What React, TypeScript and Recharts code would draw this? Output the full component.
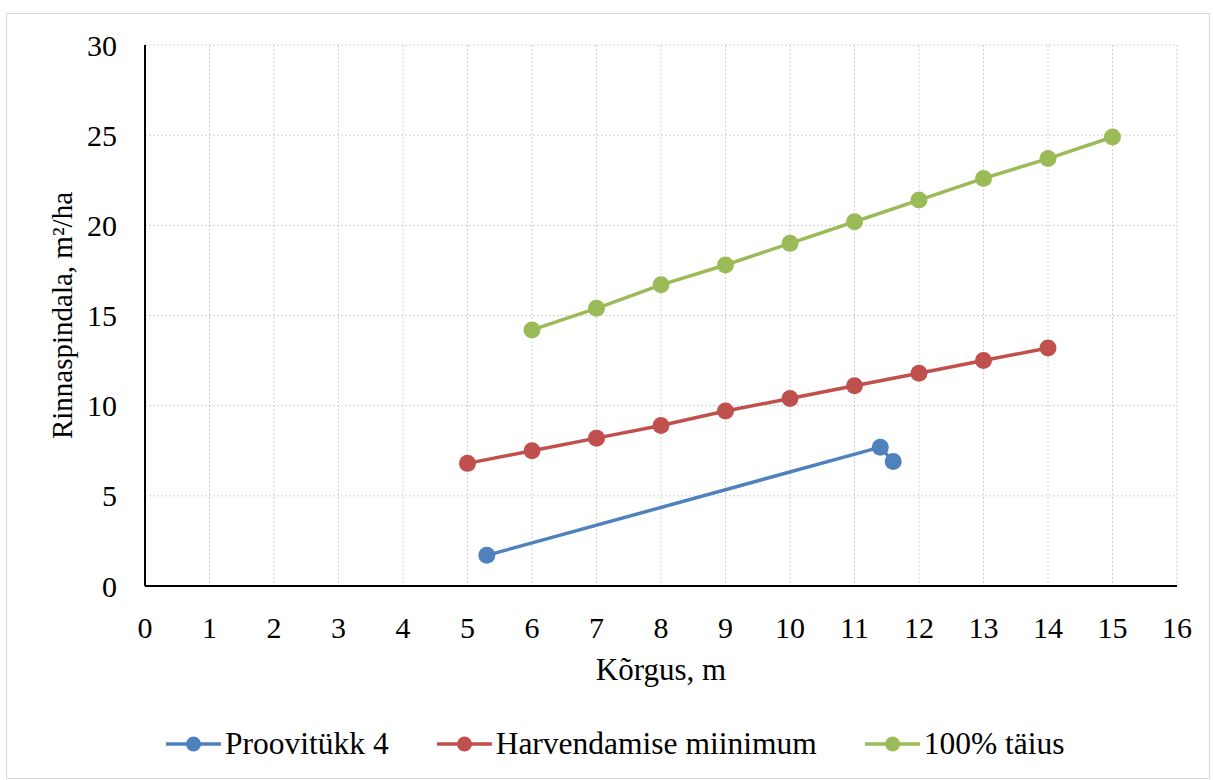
import { LineChart, Line, XAxis, YAxis, CartesianGrid, Legend } from 'recharts';

const proovitukkX = [5.3, 11.4, 11.6];
const proovitukkY = [1.7, 7.7, 6.9];

const harvendamineX = [5, 6, 7, 8, 9, 10, 11, 12, 13, 14];
const harvendamineY = [6.8, 7.5, 8.2, 8.9, 9.7, 10.4, 11.1, 11.8, 12.5, 13.2];

const taiusX = [6, 7, 8, 9, 10, 11, 12, 13, 14, 15];
const taiusY = [14.2, 15.4, 16.7, 17.8, 19.0, 20.2, 21.4, 22.6, 23.7, 24.9];

const xTicks = [0, 1, 2, 3, 4, 5, 6, 7, 8, 9, 10, 11, 12, 13, 14, 15, 16];
const yTicks = [0, 5, 10, 15, 20, 25, 30];

const toPoints = (xs: number[], ys: number[]) => xs.map((x, i) => ({ x, y: ys[i] }));

const series = [
  { name: 'Proovitükk 4', color: '#4F81BD', data: toPoints(proovitukkX, proovitukkY) },
  { name: 'Harvendamise miinimum', color: '#C0504D', data: toPoints(harvendamineX, harvendamineY) },
  { name: '100% täius', color: '#9BBB59', data: toPoints(taiusX, taiusY) },
];

const FONT = '"Liberation Serif", "Times New Roman", serif';

// fixed height so the plot area does not depend on the measured text
const renderLegend = () => (
  <div style={{ display: 'flex', alignItems: 'flex-start', height: 40, boxSizing: 'border-box', paddingTop: 6, paddingLeft: 166, fontFamily: FONT, fontSize: 31.5, color: '#000', overflow: 'visible' }}>
    {series.map((s, i) => (
      <div key={s.name} style={{ display: 'flex', alignItems: 'center', height: 36, lineHeight: '36px', marginLeft: i === 0 ? 0 : 48 }}>
        <svg width={55} height={20} style={{ marginRight: 4 }}>
          <line x1={0} y1={10} x2={55} y2={10} stroke={s.color} strokeWidth={3.5} strokeLinecap="round" />
          <circle cx={27.5} cy={10} r={7.5} fill={s.color} />
        </svg>
        <span>{s.name}</span>
      </div>
    ))}
  </div>
);

export default function App() {
  return (
    <div style={{ position: 'absolute', left: 0, top: 0, width: 1213, height: 780, background: '#fff' }}>
      <div style={{ position: 'absolute', left: 6, top: 13, width: 1204, height: 766, border: '1px solid #d9d9d9', boxSizing: 'border-box' }} />
      <LineChart width={1213} height={780} margin={{ top: 45, right: 36, left: 0, bottom: 20 }}>
        <CartesianGrid stroke="#d0d0d0" strokeDasharray="2 2" horizontalValues={yTicks} verticalValues={xTicks} />
        <XAxis
          type="number"
          dataKey="x"
          domain={[0, 16]}
          ticks={xTicks}
          interval={0}
          height={134}
          tickLine={false}
          tickSize={0}
          tickMargin={31}
          axisLine={{ stroke: '#000', strokeWidth: 2 }}
          tick={{ fill: '#000', fontSize: 30, fontFamily: FONT }}
          label={{ value: 'Kõrgus, m', position: 'insideBottom', offset: 40, fill: '#000', fontSize: 31, fontFamily: FONT }}
        />
        <YAxis
          type="number"
          dataKey="y"
          domain={[0, 30]}
          ticks={yTicks}
          interval={0}
          width={145}
          tickLine={false}
          tickSize={0}
          tickMargin={28}
          axisLine={{ stroke: '#000', strokeWidth: 2 }}
          tick={{ fill: '#000', fontSize: 30, fontFamily: FONT }}
          label={{ value: 'Rinnaspindala, m²/ha', angle: -90, position: 'insideLeft', offset: 62, fill: '#000', fontSize: 29, fontFamily: FONT, style: { textAnchor: 'middle' } }}
        />
        <Legend verticalAlign="bottom" height={40} content={renderLegend} />
        {series.map((s) => (
          <Line
            key={s.name}
            data={s.data}
            dataKey="y"
            name={s.name}
            stroke={s.color}
            strokeWidth={3.5}
            dot={{ r: 8.5, fill: s.color, stroke: s.color, strokeWidth: 0 }}
            activeDot={false}
            isAnimationActive={false}
          />
        ))}
      </LineChart>
    </div>
  );
}
